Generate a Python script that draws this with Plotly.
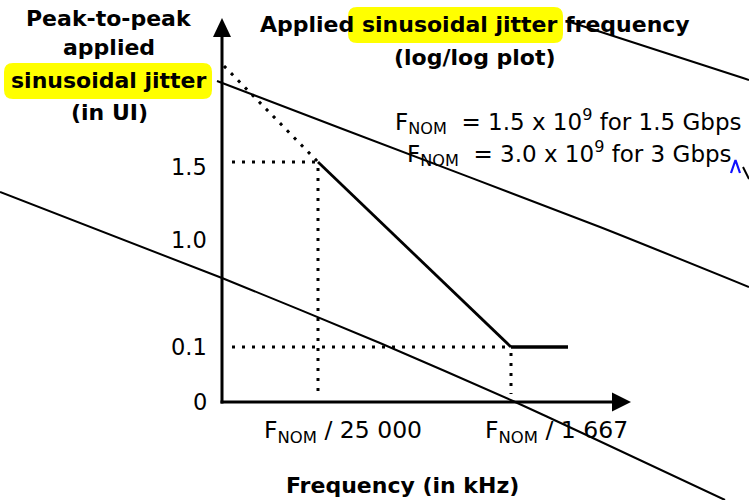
import plotly.graph_objects as go

# ---- diagram content -------------------------------------------------------
jitter_ticks = ["0", "0.1", "1.0", "1.5"]                      # peak-to-peak SJ (UI)
freq_ticks = ["F<sub>NOM</sub> / 25 000", "F<sub>NOM</sub> / 1 667"]
mask_levels = ["1.5", "0.1"]                                   # SJ at each corner frequency
rate_notes = [
    "F<sub>NOM</sub>  = 1.5 x 10<sup>9</sup> for 1.5 Gbps",
    "F<sub>NOM</sub>  = 3.0 x 10<sup>9</sup> for 3 Gbps",
]
y_title = ["Peak-to-peak", "applied", "sinusoidal jitter", "(in UI)"]
main_title = ["Applied sinusoidal jitter frequency", "(log/log plot)"]
x_title = "Frequency (in kHz)"

# ---- schematic placement (canvas units, y grows downward) -------------------
TICK_Y = {"0": 402, "0.1": 347, "1.0": 240, "1.5": 162}
TICK_X = [318, 511]
ORIGIN = (222, 402)
Y_TIP, X_TIP = 18, 631
FLAT_END = 568
EXT_START = (224, 66)

# free-hand strokes crossing the sheet
stroke_a = ([217, 340, 600, 749], [81, 128, 227, 287])
stroke_b = ([567, 743, 749], [21, 78, 80])
stroke_c = ([0, 222, 380, 513, 580, 725], [192, 278, 343, 401, 432, 500])
stroke_d = ([743, 749], [167, 179])
caret = ([731, 735.5, 740], [173, 160, 173])

FONT = "DejaVu Sans"

fig = go.Figure()


def rounded_box(x0, y0, x1, y1, r):
    return (f"M {x0+r},{y0} L {x1-r},{y0} Q {x1},{y0} {x1},{y0+r} "
            f"L {x1},{y1-r} Q {x1},{y1} {x1-r},{y1} L {x0+r},{y1} "
            f"Q {x0},{y1} {x0},{y1-r} L {x0},{y0+r} Q {x0},{y0} {x0+r},{y0} Z")


shapes = []
# yellow highlights behind "sinusoidal jitter"
for box in [(4, 63, 212, 99), (348, 7, 563, 43)]:
    shapes.append(dict(type="path", path=rounded_box(*box, 9), fillcolor="#FFFF00",
                       line=dict(width=0), layer="below"))

ox, oy = ORIGIN
# axes with arrow heads
shapes.append(dict(type="line", x0=ox, y0=oy + 1.5, x1=ox, y1=Y_TIP + 18,
                   line=dict(color="black", width=3)))
shapes.append(dict(type="line", x0=ox - 1.5, y0=oy, x1=X_TIP - 18, y1=oy,
                   line=dict(color="black", width=3)))
shapes.append(dict(type="path", path=f"M {ox},{Y_TIP} L {ox-9},{Y_TIP+19} L {ox+9},{Y_TIP+19} Z",
                   fillcolor="black", line=dict(width=0)))
shapes.append(dict(type="path", path=f"M {X_TIP},{oy} L {X_TIP-19},{oy-9.5} L {X_TIP-19},{oy+9.5} Z",
                   fillcolor="black", line=dict(width=0)))

# dotted guides
dot = dict(color="black", width=3, dash="3px,7px")
y_hi, y_lo = TICK_Y[mask_levels[0]], TICK_Y[mask_levels[1]]
f_lo, f_hi = TICK_X
shapes.append(dict(type="line", x0=ox + 10, y0=y_hi, x1=f_lo, y1=y_hi, line=dot))
shapes.append(dict(type="line", x0=ox + 10, y0=y_lo, x1=f_hi, y1=y_lo, line=dot))
shapes.append(dict(type="line", x0=f_lo, y0=y_hi + 6, x1=f_lo, y1=oy - 8, line=dot))
shapes.append(dict(type="line", x0=f_hi, y0=y_lo + 6, x1=f_hi, y1=oy - 8, line=dot))
shapes.append(dict(type="line", x0=EXT_START[0], y0=EXT_START[1], x1=f_lo, y1=y_hi, line=dot))

# tolerance mask
fig.add_trace(go.Scatter(x=[f_lo, f_hi], y=[y_hi, y_lo], mode="lines",
                         line=dict(color="black", width=2.8), hoverinfo="skip"))
fig.add_trace(go.Scatter(x=[f_hi, FLAT_END], y=[y_lo, y_lo], mode="lines",
                         line=dict(color="black", width=3.5), hoverinfo="skip"))

# crossing strokes
for sx, sy in [stroke_a, stroke_b, stroke_c, stroke_d]:
    fig.add_trace(go.Scatter(x=sx, y=sy, mode="lines", hoverinfo="skip",
                             line=dict(color="black", width=2, shape="spline", smoothing=0.6)))
fig.add_trace(go.Scatter(x=caret[0], y=caret[1], mode="lines", hoverinfo="skip",
                         line=dict(color="#1010FF", width=2.2)))

ann = []


def text(x, y, s, size, bold=False, xanchor="center"):
    ann.append(dict(x=x, y=y, text=f"<b>{s}</b>" if bold else s, showarrow=False,
                    xanchor=xanchor, yanchor="middle",
                    font=dict(family=FONT, size=size, color="black")))


# left title
for s, y in zip(y_title, [18, 47, 80, 112]):
    text(109, y, s, 22, bold=True)
# top title
for s, y in zip(main_title, [24, 57]):
    text(475, y, s, 22, bold=True)
# rate notes
for s, y, x in zip(rate_notes, [121, 153], [568, 569]):
    text(x, y, s, 23)
# y tick labels
for t in jitter_ticks:
    off = {"1.5": 5, "1.0": 0, "0.1": 0, "0": 0}[t]
    text(209, TICK_Y[t] + off, t, 22.5, xanchor="right")
# x tick labels
for s, x in zip(freq_ticks, [343, 556]):
    text(x, 431, s, 23.5)
text(402, 485, x_title, 22, bold=True)

fig.update_layout(
    width=749, height=500,
    margin=dict(l=0, r=0, t=0, b=0),
    paper_bgcolor="white", plot_bgcolor="white",
    xaxis=dict(range=[0, 749], visible=False, fixedrange=True),
    yaxis=dict(range=[500, 0], visible=False, fixedrange=True),
    showlegend=False,
    shapes=shapes,
    annotations=ann,
    font=dict(family=FONT, size=22, color="black"),
)

fig.write_html("out.html")
